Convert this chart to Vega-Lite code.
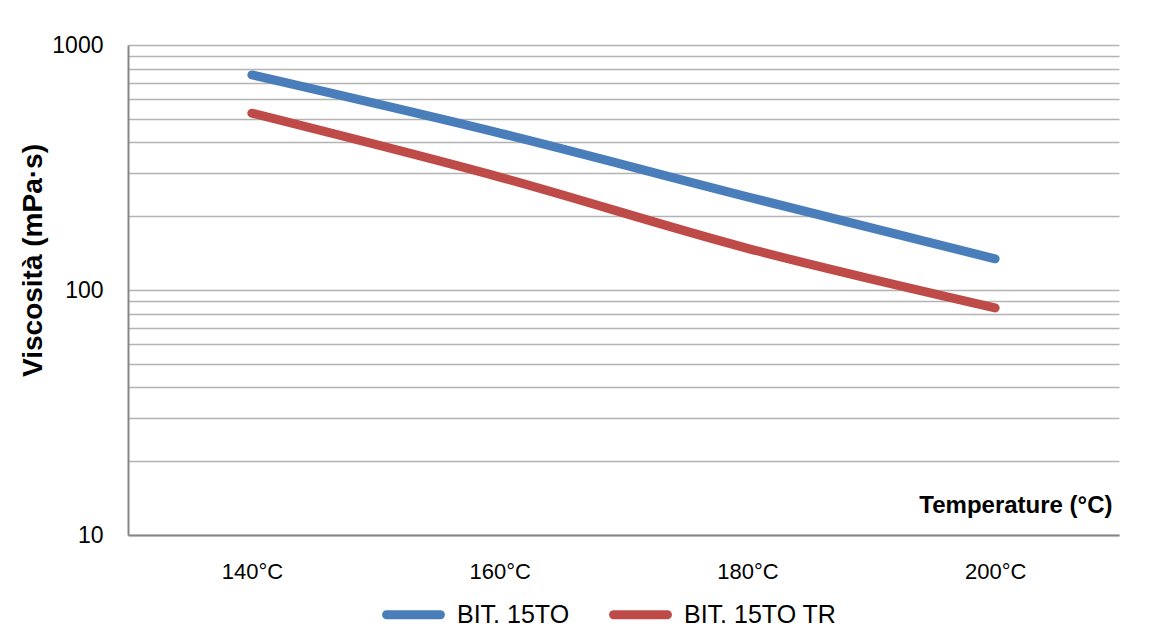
{
  "$schema": "https://vega.github.io/schema/vega-lite/v6.json",
  "autosize": {"type": "none"},
  "width": 991,
  "height": 490,
  "padding": {"left": 128, "top": 45, "right": 40, "bottom": 106},
  "background": "white",
  "config": {
    "view": {"stroke": null},
    "font": "Liberation Sans"
  },
  "data": {
    "values": [
      {"temp": "140°C", "series": "BIT. 15TO", "visc": 755},
      {"temp": "160°C", "series": "BIT. 15TO", "visc": 437},
      {"temp": "180°C", "series": "BIT. 15TO", "visc": 240},
      {"temp": "200°C", "series": "BIT. 15TO", "visc": 134},
      {"temp": "140°C", "series": "BIT. 15TO TR", "visc": 527},
      {"temp": "160°C", "series": "BIT. 15TO TR", "visc": 289},
      {"temp": "180°C", "series": "BIT. 15TO TR", "visc": 148},
      {"temp": "200°C", "series": "BIT. 15TO TR", "visc": 84.5}
    ]
  },
  "mark": {"type": "line", "strokeWidth": 9, "strokeCap": "round", "strokeJoin": "round", "interpolate": "monotone"},
  "encoding": {
    "x": {
      "field": "temp",
      "type": "ordinal",
      "sort": ["140°C", "160°C", "180°C", "200°C"],
      "scale": {"type": "point", "padding": 0.5},
      "axis": {
        "title": "Temperature (°C)",
        "titleFontSize": 24,
        "titleFontWeight": "bold",
        "titleColor": "black",
        "titleX": 984,
        "titleY": -30,
        "titleAlign": "right",
        "titleBaseline": "middle",
        "labelAngle": 0,
        "labelFontSize": 22,
        "labelColor": "black",
        "labelPadding": 26,
        "ticks": false,
        "grid": false,
        "domainColor": "#868686",
        "domainWidth": 2
      }
    },
    "y": {
      "field": "visc",
      "type": "quantitative",
      "scale": {"type": "log", "domain": [10, 1000], "nice": false},
      "axis": {
        "title": "Viscosità (mPa·s)",
        "titleFontSize": 28,
        "titleFontWeight": "bold",
        "titleColor": "black",
        "titleAngle": -90,
        "titleX": -95,
        "titleY": 215,
        "titleAlign": "center",
        "titleBaseline": "middle",
        "values": [10, 20, 30, 40, 50, 60, 70, 80, 90, 100, 200, 300, 400, 500, 600, 700, 800, 900, 1000],
        "format": "d",
        "labelExpr": "datum.value == 10 || datum.value == 100 || datum.value == 1000 ? datum.label : ''",
        "labelFontSize": 23,
        "labelColor": "black",
        "labelPadding": 25,
        "ticks": false,
        "grid": true,
        "gridColor": "#b3b3b3",
        "gridWidth": 1.5,
        "domainColor": "#868686",
        "domainWidth": 2
      }
    },
    "color": {
      "field": "series",
      "type": "nominal",
      "scale": {"domain": ["BIT. 15TO", "BIT. 15TO TR"], "range": ["#4A7EBB", "#BE4B48"]},
      "legend": {
        "title": null,
        "orient": "none",
        "direction": "horizontal",
        "legendX": 254,
        "legendY": 538,
        "padding": 0,
        "symbolType": "stroke",
        "symbolSize": 2900,
        "symbolStrokeWidth": 9,
        "labelFontSize": 25,
        "labelColor": "black",
        "labelOffset": 12,
        "columnPadding": 25,
        "encode": {"symbols": {"update": {"strokeCap": {"value": "round"}}}}
      }
    }
  }
}
